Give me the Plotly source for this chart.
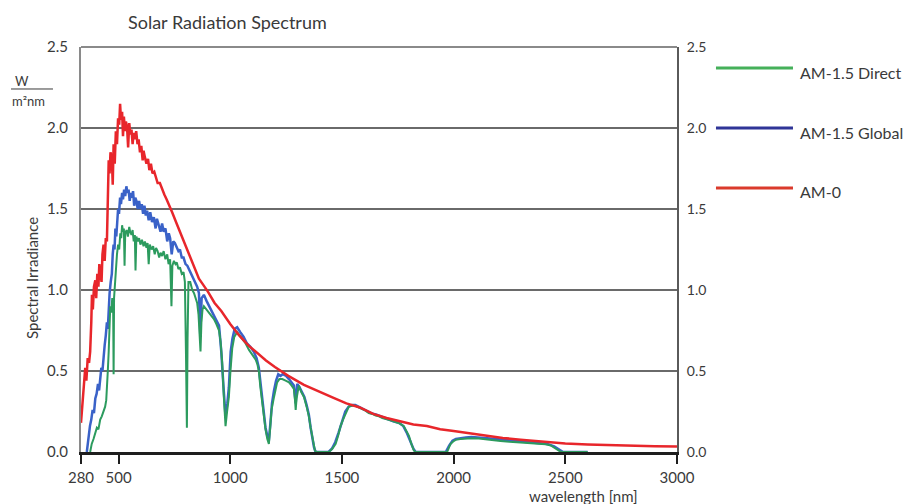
import plotly.graph_objects as go

# ---------------- data ----------------
# AM-0 (extraterrestrial) spectrum
wl_am0 = [332, 338, 345, 351, 356, 362, 368, 373, 378, 381, 385, 390, 396, 400, 405, 410, 414, 418, 424, 428,
          433, 438, 443, 448, 452, 456, 460, 464, 470, 474, 478, 483, 488, 493, 498, 503, 507, 511, 516, 520,
          524, 529, 533, 538, 543, 548, 553, 558, 563, 568, 574, 579, 585, 590, 596, 602, 608, 612, 618, 625,
          632, 638, 645, 652, 660, 668, 675, 685, 695, 705, 715, 725, 740, 760, 780, 800, 820, 840, 860, 880,
          900, 930, 960, 1000, 1040, 1080, 1120, 1160, 1200, 1260, 1330, 1400, 1460, 1520, 1580, 1640, 1700,
          1760, 1820, 1880, 1940, 2000, 2070, 2140, 2220, 2300, 2400, 2500, 2600, 2700, 2800, 2900, 3000]
am0 = [0.18, 0.30, 0.45, 0.52, 0.44, 0.58, 0.55, 0.62, 0.80, 0.97, 0.88, 1.02, 1.06, 0.95, 1.10, 1.02, 1.16, 1.12, 1.05, 1.22,
       1.28, 1.18, 1.32, 1.30, 1.55, 1.80, 1.72, 1.85, 1.82, 1.65, 1.90, 1.78, 1.98, 1.90, 2.06, 2.02, 2.15, 2.05, 2.10, 1.95,
       2.07, 1.98, 2.04, 2.01, 1.88, 2.03, 1.96, 1.99, 1.90, 1.97, 1.93, 1.98, 1.90, 1.93, 1.85, 1.89, 1.80, 1.86, 1.82, 1.78,
       1.81, 1.74, 1.78, 1.72, 1.73, 1.69, 1.66, 1.66, 1.62, 1.59, 1.56, 1.53, 1.48, 1.41, 1.34, 1.28, 1.20, 1.13, 1.07, 1.03,
       0.99, 0.92, 0.87, 0.79, 0.72, 0.66, 0.61, 0.565, 0.525, 0.47, 0.415, 0.37, 0.335, 0.30, 0.275, 0.235, 0.21,
       0.19, 0.17, 0.16, 0.14, 0.13, 0.115, 0.10, 0.087, 0.076, 0.063, 0.053, 0.047, 0.042, 0.039, 0.036, 0.034]

# AM-1.5 Global spectrum
wl_glob = [358, 365, 372, 378, 384, 390, 396, 402, 408, 413, 418, 423, 428, 433, 438, 443, 448, 452, 456, 460,
           465, 470, 474, 478, 482, 486, 490, 494, 498, 502, 507, 511, 516, 520, 525, 530, 535, 540, 545, 550,
           555, 560, 565, 570, 575, 580, 586, 592, 598, 604, 610, 616, 622, 628, 635, 642, 650, 658, 666, 672,
           680, 688, 695, 702, 710, 718, 725, 731, 738, 745, 752, 761, 768, 775, 783, 791, 800, 808, 815, 822,
           830, 838, 845, 852, 860, 866, 872, 882, 895, 905, 920, 935, 950, 960, 970, 979, 987, 994, 1002, 1010,
           1020, 1031, 1045, 1060, 1075, 1090, 1105, 1118, 1128, 1136, 1143, 1150, 1158, 1166, 1173, 1180, 1187,
           1196, 1205, 1215, 1225, 1235, 1250, 1263, 1275, 1285, 1293, 1300, 1310, 1322, 1332, 1342, 1352, 1360,
           1368, 1375, 1382, 1440, 1455, 1470, 1485, 1500, 1515, 1530, 1545, 1560, 1580, 1605, 1630, 1655, 1680,
           1705, 1730, 1755, 1775, 1790, 1805, 1820, 1830, 1965, 1980, 1995, 2010, 2030, 2055, 2080, 2110, 2150,
           2200, 2260, 2320, 2380, 2420, 2450, 2470, 2490, 2600]
glob = [0.0, 0.10, 0.16, 0.20, 0.26, 0.24, 0.33, 0.36, 0.42, 0.38, 0.48, 0.52, 0.50, 0.62, 0.66, 0.72, 0.80, 0.76, 0.95, 0.98,
        1.05, 1.10, 1.22, 1.28, 1.25, 1.38, 1.33, 1.45, 1.50, 1.47, 1.57, 1.53, 1.60, 1.56, 1.62, 1.58, 1.64, 1.60, 1.62, 1.55,
        1.60, 1.57, 1.61, 1.52, 1.57, 1.55, 1.50, 1.55, 1.50, 1.53, 1.47, 1.52, 1.46, 1.49, 1.43, 1.48, 1.42, 1.45, 1.38, 1.44,
        1.40, 1.36, 1.41, 1.36, 1.38, 1.30, 1.35, 1.32, 1.22, 1.30, 1.29, 1.26, 1.24, 1.25, 1.20, 1.20, 1.16, 1.15, 1.13, 1.10,
        1.08, 1.06, 1.04, 1.02, 0.98, 0.72, 0.95, 0.97, 0.93, 0.90, 0.86, 0.82, 0.78, 0.62, 0.40, 0.22, 0.30, 0.40, 0.62, 0.70,
        0.76, 0.77, 0.74, 0.71, 0.67, 0.65, 0.62, 0.58, 0.52, 0.42, 0.32, 0.22, 0.15, 0.10, 0.07, 0.18, 0.30,
        0.38, 0.44, 0.48, 0.47, 0.48, 0.47, 0.45, 0.43, 0.41, 0.30, 0.42, 0.40, 0.37, 0.34, 0.29, 0.23, 0.15,
        0.08, 0.03, 0.0, 0.0, 0.02, 0.06, 0.12, 0.19, 0.25, 0.28, 0.29, 0.29, 0.275, 0.26, 0.24, 0.23, 0.215,
        0.205, 0.19, 0.18, 0.16, 0.12, 0.07, 0.02, 0.0, 0.0, 0.04, 0.07, 0.08, 0.085, 0.09, 0.092, 0.09, 0.085,
        0.078, 0.07, 0.062, 0.055, 0.05, 0.035, 0.02, 0.0, 0.0]

# AM-1.5 Direct spectrum
wl_dir = [373, 380, 388, 395, 403, 410, 418, 425, 433, 440, 445, 448, 452, 456, 460, 463, 467, 472, 476, 478,
          480, 484, 488, 493, 498, 503, 508, 512, 516, 520, 524, 527, 530, 536, 542, 548, 552, 558, 563, 568,
          573, 576, 580, 586, 592, 598, 605, 612, 618, 625, 630, 635, 640, 648, 655, 662, 668, 675, 682, 688,
          695, 702, 710, 718, 724, 731, 737, 741, 748, 755, 761, 768, 775, 783, 791, 797, 802, 806, 809, 813,
          821, 830, 838, 845, 852, 858, 863, 867, 871, 876, 882, 893, 905, 916, 927, 938, 950, 957, 964, 971,
          979, 986, 994, 1001, 1009, 1018, 1031, 1042, 1054, 1069, 1084, 1099, 1114, 1122, 1128, 1135, 1143,
          1150, 1158, 1166, 1173, 1179, 1185, 1196, 1204, 1210, 1220, 1233, 1248, 1263, 1275, 1285, 1290, 1293,
          1297, 1307, 1318, 1330, 1342, 1352, 1360, 1367, 1373, 1379, 1385, 1442, 1457, 1472, 1483, 1494, 1505,
          1517, 1531, 1546, 1561, 1575, 1590, 1606, 1620, 1636, 1651, 1666, 1681, 1696, 1718, 1740, 1760, 1777,
          1789, 1800, 1811, 1822, 1830, 1971, 1980, 1987, 1998, 2009, 2030, 2054, 2080, 2113, 2140, 2170, 2210,
          2250, 2292, 2340, 2380, 2412, 2435, 2457, 2475, 2486, 2600]
direct = [0.0, 0.05, 0.08, 0.12, 0.15, 0.14, 0.20, 0.22, 0.25, 0.28, 0.32, 0.38, 0.50, 0.62, 0.82, 0.90, 0.86, 0.95, 0.88, 0.48,
          0.95, 1.05, 1.12, 1.22, 1.28, 1.25, 1.35, 1.32, 1.40, 1.36, 1.38, 1.15, 1.35, 1.37, 1.33, 1.39, 1.36, 1.34, 1.37, 1.30,
          1.34, 1.12, 1.33, 1.30, 1.32, 1.28, 1.31, 1.27, 1.30, 1.26, 1.29, 1.16, 1.28, 1.25, 1.27, 1.22, 1.26, 1.24, 1.20, 1.23,
          1.21, 1.24, 1.19, 1.22, 1.16, 1.19, 0.90, 1.15, 1.18, 1.16, 1.17, 1.13, 1.14, 1.10, 1.11, 1.05, 0.60, 0.15, 0.70, 1.05,
          1.05, 1.00, 0.98, 0.95, 0.92, 0.85, 0.70, 0.62, 0.80, 0.88, 0.90, 0.88, 0.86, 0.84, 0.82, 0.79, 0.75, 0.68, 0.55, 0.35,
          0.16, 0.25, 0.34, 0.50, 0.64, 0.71, 0.74, 0.72, 0.70, 0.67, 0.63, 0.60, 0.57, 0.54, 0.50, 0.40, 0.30,
          0.20, 0.14, 0.08, 0.05, 0.15, 0.26, 0.34, 0.40, 0.43, 0.45, 0.45, 0.44, 0.43, 0.41, 0.39, 0.32, 0.26,
          0.33, 0.41, 0.37, 0.34, 0.28, 0.22, 0.15, 0.10, 0.05, 0.01, 0.0, 0.0, 0.02, 0.05, 0.10, 0.16, 0.20,
          0.24, 0.28, 0.285, 0.285, 0.275, 0.265, 0.255, 0.24, 0.235, 0.225, 0.22, 0.21, 0.205, 0.195, 0.185, 0.175, 0.16,
          0.13, 0.10, 0.05, 0.01, 0.0, 0.0, 0.03, 0.05, 0.065, 0.075, 0.08, 0.083, 0.085, 0.083, 0.078, 0.073, 0.068,
          0.063, 0.058, 0.054, 0.051, 0.048, 0.04, 0.02, 0.005, 0.0, 0.0]

# axis ticks (first tick sits at the axis start, labelled 280)
x_tick_vals = [332, 500, 1000, 1500, 2000, 2500, 3000]
x_tick_text = ["280", "500", "1000", "1500", "2000", "2500", "3000"]
y_tick_vals = [0, 0.5, 1.0, 1.5, 2.0, 2.5]
y_tick_text = ["0.0", "0.5", "1.0", "1.5", "2.0", "2.5"]

series_names = ["AM-1.5 Direct", "AM-1.5 Global", "AM-0"]
plot_colors = {"AM-1.5 Direct": "#2c9b5e", "AM-1.5 Global": "#3a62c8", "AM-0": "#e8262b"}
legend_colors = {"AM-1.5 Direct": "#45b05a", "AM-1.5 Global": "#2f3597", "AM-0": "#da3a2c"}

FONT = "Lato"
TXT = "#3a3a3a"

fig = go.Figure()
fig.add_trace(go.Scatter(x=wl_glob, y=glob, mode="lines", name="AM-1.5 Global",
                         line=dict(color=plot_colors["AM-1.5 Global"], width=2.5), showlegend=False))
fig.add_trace(go.Scatter(x=wl_dir, y=direct, mode="lines", name="AM-1.5 Direct",
                         line=dict(color=plot_colors["AM-1.5 Direct"], width=2), showlegend=False))
fig.add_trace(go.Scatter(x=wl_am0, y=am0, mode="lines", name="AM-0", yaxis="y2",
                         line=dict(color=plot_colors["AM-0"], width=2.5), showlegend=False))

tickfont = dict(family=FONT, size=15, color=TXT)
tickfont_r = dict(family=FONT, size=14, color=TXT)

fig.update_layout(
    width=910, height=504,
    margin=dict(l=81, r=233, t=47, b=52),
    paper_bgcolor="white", plot_bgcolor="white",
    xaxis=dict(range=[332, 3000], tickmode="array", tickvals=x_tick_vals, ticktext=x_tick_text,
               showgrid=False, zeroline=False, showline=True, linecolor="#1e1e1e", linewidth=3,
               ticks="outside", ticklen=9, tickwidth=2, tickcolor="#1e1e1e", tickfont=tickfont,
               ticklabelstandoff=1),
    yaxis=dict(range=[0, 2.5], tickmode="array", tickvals=y_tick_vals, ticktext=y_tick_text,
               showgrid=True, gridcolor="#6a6a6a", gridwidth=1.5, zeroline=False,
               showline=True, linecolor="#8a8a8a", linewidth=2, ticks="", tickfont=tickfont,
               ticklabelstandoff=8),
    yaxis2=dict(range=[0, 2.5], overlaying="y", side="right", tickmode="array", tickvals=y_tick_vals,
                ticktext=y_tick_text, showgrid=False, zeroline=False, showline=True, linecolor="#5a5a5a",
                linewidth=2, ticks="", tickfont=tickfont_r, ticklabelstandoff=5),
)

# top frame line
fig.add_shape(type="line", xref="paper", yref="paper", x0=0, x1=1, y0=1, y1=1,
              line=dict(color="#8a8a8a", width=2))

# title and axis texts
fig.add_annotation(text="Solar Radiation Spectrum", xref="paper", yref="paper", x=0.0755, y=1.062,
                   xanchor="left", yanchor="middle", showarrow=False,
                   font=dict(family=FONT, size=18, color=TXT))
fig.add_annotation(text="W", xref="paper", yref="paper", x=-0.114, y=0.916,
                   xanchor="left", yanchor="middle", showarrow=False,
                   font=dict(family=FONT, size=13, color=TXT))
fig.add_shape(type="line", xref="paper", yref="paper", x0=-0.1174, x1=-0.047, y0=0.8963, y1=0.8963,
              line=dict(color=TXT, width=1))
fig.add_annotation(text="m²nm", xref="paper", yref="paper", x=-0.119, y=0.867,
                   xanchor="left", yanchor="middle", showarrow=False,
                   font=dict(family=FONT, size=13, color=TXT))
fig.add_annotation(text="Spectral Irradiance", xref="paper", yref="paper", x=-0.082, y=0.43,
                   xanchor="center", yanchor="middle", textangle=-90, showarrow=False,
                   font=dict(family=FONT, size=15, color=TXT))
fig.add_annotation(text="wavelength [nm]", xref="paper", yref="paper", x=0.748, y=-0.108,
                   xanchor="left", yanchor="middle", showarrow=False,
                   font=dict(family=FONT, size=15, color=TXT))

# custom legend
legend_y = [0.948, 0.800, 0.652]
for name, ly in zip(series_names, legend_y):
    fig.add_shape(type="line", xref="paper", yref="paper", x0=1.0654, x1=1.1946, y0=ly, y1=ly,
                  line=dict(color=legend_colors[name], width=3))
    fig.add_annotation(text=name, xref="paper", yref="paper", x=1.203, y=ly - 0.01,
                       xanchor="left", yanchor="middle", showarrow=False,
                       font=dict(family=FONT, size=16, color=TXT))

fig.write_html("out.html")
